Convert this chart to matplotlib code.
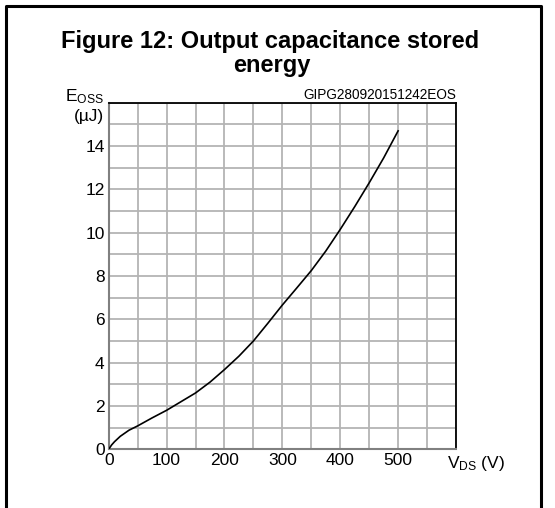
import numpy as np
import matplotlib.pyplot as plt
from matplotlib.lines import Line2D

plt.rcParams['font.family'] = ['Liberation Sans', 'DejaVu Sans']
plt.rcParams['mathtext.fontset'] = 'custom'
plt.rcParams['mathtext.rm'] = 'Liberation Sans'
plt.rcParams['mathtext.it'] = 'Liberation Sans'

# curve
vds = [0, 5, 10, 20, 35, 50, 75, 100, 125, 150, 175, 200, 225, 250,
       275, 300, 325, 350, 375, 400, 425, 450, 475, 500]
eoss = [0, 0.2, 0.35, 0.6, 0.88, 1.08, 1.45, 1.8, 2.2, 2.6, 3.1, 3.68, 4.3, 5.0,
        5.82, 6.66, 7.45, 8.25, 9.15, 10.15, 11.2, 12.3, 13.45, 14.7]

x_ticks = [0, 100, 200, 300, 400, 500]
y_ticks = [0, 2, 4, 6, 8, 10, 12, 14]

W, H = 555, 508
fig = plt.figure(figsize=(W / 100, H / 100), dpi=100)
ax = fig.add_axes([108.7 / W, (H - 449.3) / H, (456 - 108.7) / W, (449.3 - 102.7) / H])

ax.plot(vds, eoss, color='black', lw=1.2, zorder=3)

ax.set_xlim(0, 600)
ax.set_ylim(0, 16)
ax.set_xticks(np.arange(0, 601, 50))
ax.set_yticks(np.arange(0, 17, 1))
ax.set_xticklabels([str(v) if v in x_ticks else '' for v in range(0, 601, 50)])
ax.set_yticklabels([str(v) if v in y_ticks else '' for v in range(0, 17)])
ax.tick_params(length=0, labelsize=12.5, pad=3)
ax.grid(True, color='#b4b4b4', lw=1.3)
ax.set_axisbelow(True)

for s in ('left', 'bottom'):
    ax.spines[s].set_color('#808080')
    ax.spines[s].set_linewidth(1.5)
for s in ('top', 'right'):
    ax.spines[s].set_color('black')
    ax.spines[s].set_linewidth(1.3)

# labels
fig.text(104 / W, 1 - 101 / H, r'E$_{\mathrm{OSS}}$', ha='right', va='baseline', fontsize=12.5)
fig.text(104 / W, 1 - 116 / H, '(µJ)', ha='right', va='center', fontsize=12.5)
fig.text(447 / W, 1 - 468 / H, r'V$_{\mathrm{DS}}$ (V)', ha='left', va='baseline', fontsize=12.5)
fig.text(456 / W, 1 - 99 / H, 'GIPG280920151242EOS', ha='right', va='baseline', fontsize=9.8)

fig.text(270 / W, 1 - 48 / H, 'Figure 12: Output capacitance stored', ha='center', va='baseline',
         fontsize=17, fontweight='bold')
fig.text(272 / W, 1 - 72 / H, 'energy', ha='center', va='baseline', fontsize=17, fontweight='bold')

# outer frame (open at the bottom)
xl, xr, yt = 6 / W, 541 / W, 1 - 6 / H
fig.add_artist(Line2D([xl, xl, xr, xr], [0, yt, yt, 0], transform=fig.transFigure,
                      color='black', lw=2.2))

fig.savefig('out.png', dpi=100)
